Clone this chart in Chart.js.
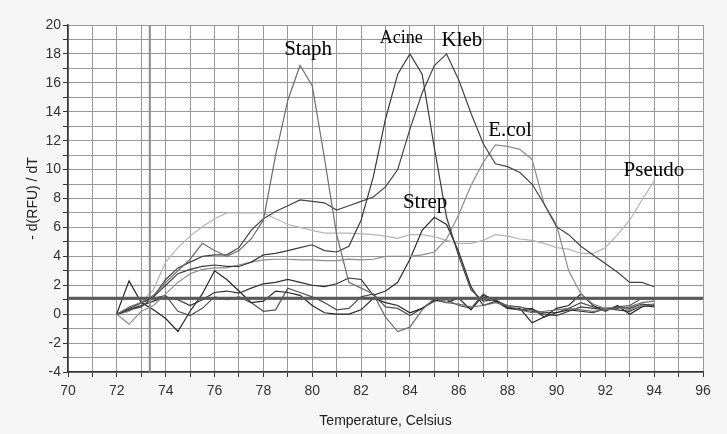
<!DOCTYPE html>
<html>
<head>
<meta charset="utf-8">
<script src="https://cdn.jsdelivr.net/npm/chart.js@4.4.1/dist/chart.umd.min.js"></script>
<style>
  html, body { margin: 0; padding: 0; background: #f6f6f6; }
  #chart { display: block; }
</style>
</head>
<body>
<canvas id="chart" width="727" height="434"></canvas>
<script>
// temperatures (x) of every reading
const temps = [72, 72.5, 73, 73.5, 74, 74.5, 75, 75.5, 76, 76.5, 77, 77.5, 78, 78.5, 79, 79.5,
  80, 80.5, 81, 81.5, 82, 82.5, 83, 83.5, 84, 84.5, 85, 85.5, 86, 86.5, 87, 87.5,
  88, 88.5, 89, 89.5, 90, 90.5, 91, 91.5, 92, 92.5, 93, 93.5, 94]

// -d(RFU)/dT per organism
const staph = [0, 0.5, 0.8, 1.3, 2.2, 3.0, 3.8, 4.9, 4.4, 4.0, 4.4, 5.2, 6.5, 11.0, 14.8, 17.2,
  15.8, 10.8, 5.5, 2.2, 1.8, 1.4, -0.2, -1.2, -0.9, 0.3, 1.1, 0.8, 0.7, 0.5, 0.6, 0.8,
  0.6, 0.3, 0.1, 0.2, 0.3, 0.4, 0.3, 0.2, 0.3, 0.4, 0.5, 0.8, 0.9]
const acine = [0, 0.4, 0.8, 1.2, 2.0, 2.8, 3.1, 3.3, 3.4, 3.3, 3.3, 3.6, 4.1, 4.2, 4.4, 4.6,
  4.8, 4.4, 4.3, 4.7, 6.5, 9.5, 13.5, 16.6, 18.0, 16.6, 11.5, 6.7, 4.0, 1.7, 0.9, 1.0,
  0.5, 0.3, 0.2, 0.0, -0.1, 0.2, 0.5, 0.4, 0.3, 0.5, 0.4, 0.7, 0.6]
const kleb = [0, 0.3, 0.5, 1.2, 2.4, 3.2, 3.6, 4.0, 4.1, 4.1, 4.6, 5.8, 6.6, 7.1, 7.5, 7.9,
  7.8, 7.7, 7.2, 7.5, 7.8, 8.1, 8.8, 10.0, 12.8, 15.3, 17.2, 18.0, 16.2, 13.9, 11.8, 10.4,
  10.2, 9.8, 9.0, 7.6, 6.05, 5.5, 4.7, 4.1, 3.5, 2.9, 2.2, 2.2, 1.9]
const ecol = [0, -0.7, 0.2, 0.6, 1.4, 2.2, 2.8, 3.1, 3.2, 3.2, 3.4, 3.6, 3.75, 3.8, 3.8, 3.75,
  3.75, 3.7, 3.7, 3.8, 3.75, 3.8, 4.0, 4.0, 4.0, 4.1, 4.3, 5.2, 6.9, 8.9, 10.5, 11.7,
  11.6, 11.4, 10.7, 7.6, 6.2, 3.0, 1.4, 0.7, 0.4, 0.5, 0.3, 0.6, 0.7]
const strep = [0, 0.3, 0.6, 0.9, 1.2, 1.0, 0.6, 1.0, 1.5, 1.6, 1.45, 1.8, 2.1, 2.2, 2.4, 2.2,
  2.0, 1.9, 2.1, 2.5, 2.4, 1.3, 1.6, 2.2, 3.8, 5.8, 6.7, 6.2, 4.3, 1.9, 0.6, 0.9,
  0.4, 0.3, 0.4, -0.2, 0.1, 0.3, 0.2, 0.1, 0.4, 0.3, 0.2, 0.6, 0.5]
const pseudo = [0, 0.2, 0.8, 1.7, 3.6, 4.6, 5.4, 6.05, 6.6, 7.0, 7.0, 7.0, 7.0, 6.6, 6.2, 6.0,
  5.8, 5.6, 5.6, 5.6, 5.55, 5.5, 5.4, 5.25, 5.5, 5.5, 5.35, 5.1, 4.9, 4.9, 5.1, 5.5,
  5.4, 5.2, 5.1, 4.9, 4.6, 4.5, 4.2, 4.2, 4.6, 5.5, 6.5, 7.9, 9.2]
// unlabelled baseline traces
const blank1 = [0.05, 2.3, 0.8, 0.3, -0.3, -1.2, 0.2, 1.4, 3.0, 2.4, 1.6, 0.8, 0.9, 1.6, 1.5, 1.3,
  0.6, 0.1, 0.0, 0.0, 0.3, 1.1, 0.8, 0.6, 0.1, 0.4, 1.0, 0.8, 1.1, 0.3, 1.3, 1.0,
  0.4, 0.4, -0.6, -0.2, 0.4, 0.6, 1.4, 0.6, 0.2, 0.6, 0.0, 0.5, 0.7]
const blank2 = [0, 0.2, 0.8, 1.1, 1.3, 0.2, -0.1, 0.4, 1.2, 1.0, 1.2, 0.8, 0.2, 0.3, 1.8, 1.5,
  1.2, 0.8, 0.3, 0.4, 1.2, 1.4, 0.5, 0.4, -0.1, 0.4, 0.9, 1.0, 0.6, 0.4, 1.4, 0.9,
  0.6, 0.5, 0.3, 0.1, 0.1, 0.4, 0.8, 0.5, 0.4, 0.5, 0.6, 1.1, 1.0]

const threshold = 1.1
const cursorTemp = 73.35

const xTicks = [70, 72, 74, 76, 78, 80, 82, 84, 86, 88, 90, 92, 94, 96]
const yTicks = [-4, -2, 0, 2, 4, 6, 8, 10, 12, 14, 16, 18, 20]

// name tags, placed in data units
const tags = [
  { text: 'Staph', x: 79.83, y: 18.3, size: 21 },
  { text: 'Acine', x: 83.64, y: 19.1, size: 18 },
  { text: 'Kleb', x: 86.13, y: 18.9, size: 21 },
  { text: 'E.col', x: 88.1, y: 12.7, size: 21 },
  { text: 'Strep', x: 84.62, y: 7.7, size: 21 },
  { text: 'Pseudo', x: 93.99, y: 9.95, size: 21 }
]

const pts = vals => temps.map((t, i) => ({ x: t, y: vals[i] }))

const trace = (label, vals, color) => ({
  label: label,
  data: pts(vals),
  borderColor: color,
  borderWidth: 1.2,
  pointRadius: 0,
  tension: 0,
  order: 2
})

const bgPlugin = {
  id: 'bg',
  beforeDraw(c) {
    const ctx = c.ctx
    const a = c.chartArea
    ctx.save()
    ctx.fillStyle = '#f6f6f6'
    ctx.fillRect(0, 0, c.width, c.height)
    ctx.fillStyle = '#ffffff'
    ctx.fillRect(a.left, a.top, a.right - a.left, a.bottom - a.top)
    ctx.restore()
  }
}

const tagPlugin = {
  id: 'tags',
  afterDatasetsDraw(c) {
    const ctx = c.ctx
    ctx.save()
    ctx.fillStyle = '#000'
    ctx.textAlign = 'center'
    ctx.textBaseline = 'middle'
    tags.forEach(t => {
      ctx.font = t.size + 'px "Liberation Serif", "Times New Roman", serif'
      ctx.fillText(t.text, c.scales.x.getPixelForValue(t.x), c.scales.y.getPixelForValue(t.y))
    })
    ctx.restore()
  }
}

const tickFont = { family: 'Liberation Sans', size: 14 }

new Chart(document.querySelector('#chart').getContext('2d'), {
  type: 'line',
  data: {
    datasets: [
      {
        label: 'threshold',
        data: [{ x: 70, y: threshold }, { x: 96, y: threshold }],
        borderColor: '#5a5a5a',
        borderWidth: 3,
        pointRadius: 0,
        order: 0
      },
      {
        label: 'cursor',
        data: [{ x: cursorTemp, y: -4 }, { x: cursorTemp, y: 20 }],
        borderColor: '#8a8a8a',
        borderWidth: 2,
        pointRadius: 0,
        order: 1
      },
      trace('Staph', staph, '#6e6e6e'),
      trace('Acine', acine, '#3c3c3c'),
      trace('Kleb', kleb, '#444444'),
      trace('E.col', ecol, '#8c8c8c'),
      trace('Strep', strep, '#2e2e2e'),
      trace('Pseudo', pseudo, '#b4b4b4'),
      trace('blank 1', blank1, '#262626'),
      trace('blank 2', blank2, '#505050')
    ]
  },
  options: {
    responsive: false,
    animation: false,
    layout: { padding: { left: 20, top: 25, right: 24, bottom: 0 } },
    plugins: {
      legend: { display: false },
      tooltip: { enabled: false }
    },
    scales: {
      x: {
        type: 'linear',
        min: 70,
        max: 96,
        afterFit: s => { s.height = 62 },
        ticks: {
          stepSize: 1,
          autoSkip: false,
          maxRotation: 0,
          color: '#333',
          font: tickFont,
          padding: 6,
          callback: v => xTicks.includes(v) ? v : ''
        },
        grid: { color: '#989898', lineWidth: 1, tickLength: 5, tickColor: '#333' },
        border: { color: '#333', width: 1.5 },
        title: {
          display: true,
          text: 'Temperature, Celsius',
          color: '#222',
          font: { family: 'Liberation Sans', size: 14 },
          padding: { top: 0, bottom: 4 }
        }
      },
      y: {
        min: -4,
        max: 20,
        afterFit: s => { s.width = 48 },
        ticks: {
          stepSize: 1,
          autoSkip: false,
          color: '#333',
          font: tickFont,
          padding: 2,
          callback: v => yTicks.includes(v) ? v : ''
        },
        grid: { color: '#989898', lineWidth: 1, tickLength: 5, tickColor: '#333' },
        border: { color: '#333', width: 1.5 },
        title: {
          display: true,
          text: '- d(RFU) / dT',
          color: '#222',
          font: { family: 'Liberation Sans', size: 14 },
          padding: { top: 5, bottom: 0 }
        }
      }
    }
  },
  plugins: [bgPlugin, tagPlugin]
})
</script>
</body>
</html>
